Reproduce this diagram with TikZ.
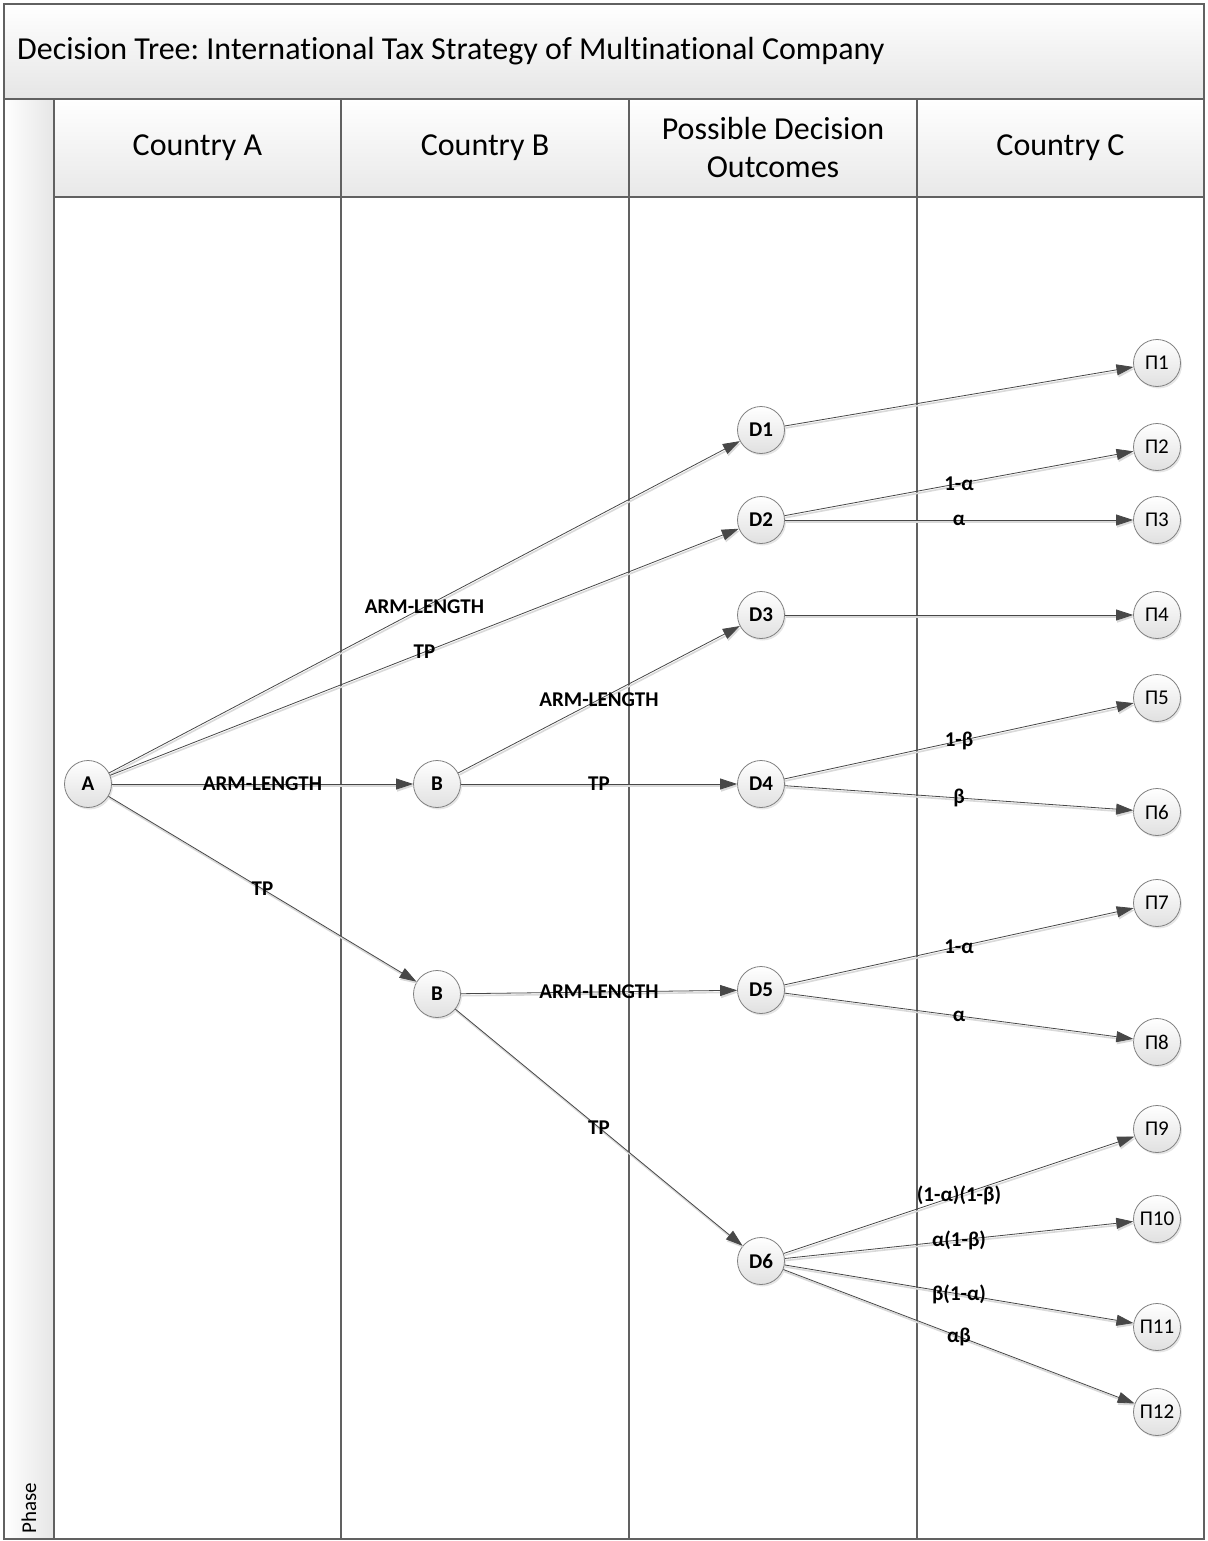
\documentclass[tikz,border=0pt]{standalone}
\usepackage{fontspec}
\setmainfont{Carlito}[Ligatures=NoCommon]
\frenchspacing
\usetikzlibrary{arrows.meta,shadows}

\begin{document}
\begin{tikzpicture}[x=1pt, y=-1pt, node distance=349pt,
    >={Triangle[length=17pt,width=11pt]},
    lane/.style={draw=black!62, line width=1.6pt},
    head/.style={align=center, font=\fontsize{32}{38}\selectfont},
    state/.style={circle, draw=black!50, line width=0.8pt, minimum size=47pt, inner sep=0pt,
        top color=white, bottom color=black!12,
        drop shadow={opacity=0.2, shadow xshift=1.5pt, shadow yshift=-2pt},
        font=\fontsize{21}{23}\selectfont\bfseries},
    payoff/.style={state, font=\fontsize{21}{23}\selectfont},
    branch/.style={->, draw=black!72, line width=0.8pt,
        preaction={draw=black!15, line width=1.6pt, transform canvas={shift={(1pt,-2pt)}}}},
    prob/.style={midway, inner sep=0pt, font=\fontsize{21}{23}\selectfont\bfseries}]

    \useasboundingbox (0,0) rectangle (1207,1541);

    % swimlane frame
    \shade[top color=white, bottom color=black!10] (4,4) rectangle (1204,99);
    \shade[left color=white, right color=black!10] (4,99) rectangle (54,1539);
    \shade[top color=white, bottom color=black!9] (54,99) rectangle (1204,197);
    \draw[lane] (4,4) rectangle (1204,1539);
    \draw[lane] (4,99) -- (1204,99);
    \draw[lane] (54,99) -- (54,1539);
    \draw[lane] (54,197) -- (1204,197);
    \foreach \x in {341,629,917}
        \draw[lane] (\x,99) -- (\x,1539);

    \node (title) [anchor=west, inner sep=0pt, font=\fontsize{32}{36}\selectfont] at (17,51) {Decision Tree: International Tax Strategy of Multinational Company};
    \node (phase) [anchor=west, rotate=90, inner sep=0pt, font=\fontsize{21}{23}\selectfont] at (29,1534) {Phase};
    \node (hA) [head] at (197.5,148) {Country A};
    \node (hB) [head] at (485,148) {Country B};
    \node (hD) [head] at (773,148) {Possible Decision\\Outcomes};
    \node (hC) [head] at (1060.5,148) {Country C};

    % decision nodes
    \node (A) [state] at (88,784) {A};
    \node (B1) [state, right of=A] {B};
    \node (B2) [state, right of=A, yshift=-210pt] {B};
    \node (D1) [state, right of=B1, xshift=-25pt, yshift=354pt] {D1};
    \node (D2) [state, right of=B1, xshift=-25pt, yshift=264pt] {D2};
    \node (D3) [state, right of=B1, xshift=-25pt, yshift=169pt] {D3};
    \node (D4) [state, right of=B1, xshift=-25pt] {D4};
    \node (D5) [state, right of=B2, xshift=-25pt, yshift=4pt] {D5};
    \node (D6) [state, right of=B2, xshift=-25pt, yshift=-267pt] {D6};

    % payoffs
    \node (P1) [payoff, right of=D1, xshift=47pt, yshift=67pt] {Π1};
    \node (P2) [payoff, right of=D2, xshift=47pt, yshift=73pt] {Π2};
    \node (P3) [payoff, right of=D2, xshift=47pt] {Π3};
    \node (P4) [payoff, right of=D3, xshift=47pt] {Π4};
    \node (P5) [payoff, right of=D4, xshift=47pt, yshift=86pt] {Π5};
    \node (P6) [payoff, right of=D4, xshift=47pt, yshift=-28pt] {Π6};
    \node (P7) [payoff, right of=D5, xshift=47pt, yshift=87pt] {Π7};
    \node (P8) [payoff, right of=D5, xshift=47pt, yshift=-52pt] {Π8};
    \node (P9) [payoff, right of=D6, xshift=47pt, yshift=132pt] {Π9};
    \node (P10) [payoff, right of=D6, xshift=47pt, yshift=42pt] {Π10};
    \node (P11) [payoff, right of=D6, xshift=47pt, yshift=-66pt] {Π11};
    \node (P12) [payoff, right of=D6, xshift=47pt, yshift=-151pt] {Π12};

    \draw[branch] (A) -- node[prob] {ARM-LENGTH} (D1);
    \draw[branch] (A) -- node[prob] {TP} (D2);
    \draw[branch] (A) -- node[prob] {ARM-LENGTH} (B1);
    \draw[branch] (A) -- node[prob] {TP} (B2);
    \draw[branch] (B1) -- node[prob] {ARM-LENGTH} (D3);
    \draw[branch] (B1) -- node[prob] {TP} (D4);
    \draw[branch] (B2) -- node[prob] {ARM-LENGTH} (D5);
    \draw[branch] (B2) -- node[prob] {TP} (D6);

    \draw[branch] (D1) -- (P1);
    \draw[branch] (D2) -- node[prob] {1-α} (P2);
    \draw[branch] (D2) -- node[prob] {α} (P3);
    \draw[branch] (D3) -- (P4);
    \draw[branch] (D4) -- node[prob] {1-β} (P5);
    \draw[branch] (D4) -- node[prob] {β} (P6);
    \draw[branch] (D5) -- node[prob] {1-α} (P7);
    \draw[branch] (D5) -- node[prob] {α} (P8);
    \draw[branch] (D6) -- node[prob] {(1-α)(1-β)} (P9);
    \draw[branch] (D6) -- node[prob] {α(1-β)} (P10);
    \draw[branch] (D6) -- node[prob] {β(1-α)} (P11);
    \draw[branch] (D6) -- node[prob] {αβ} (P12);
\end{tikzpicture}
\end{document}
